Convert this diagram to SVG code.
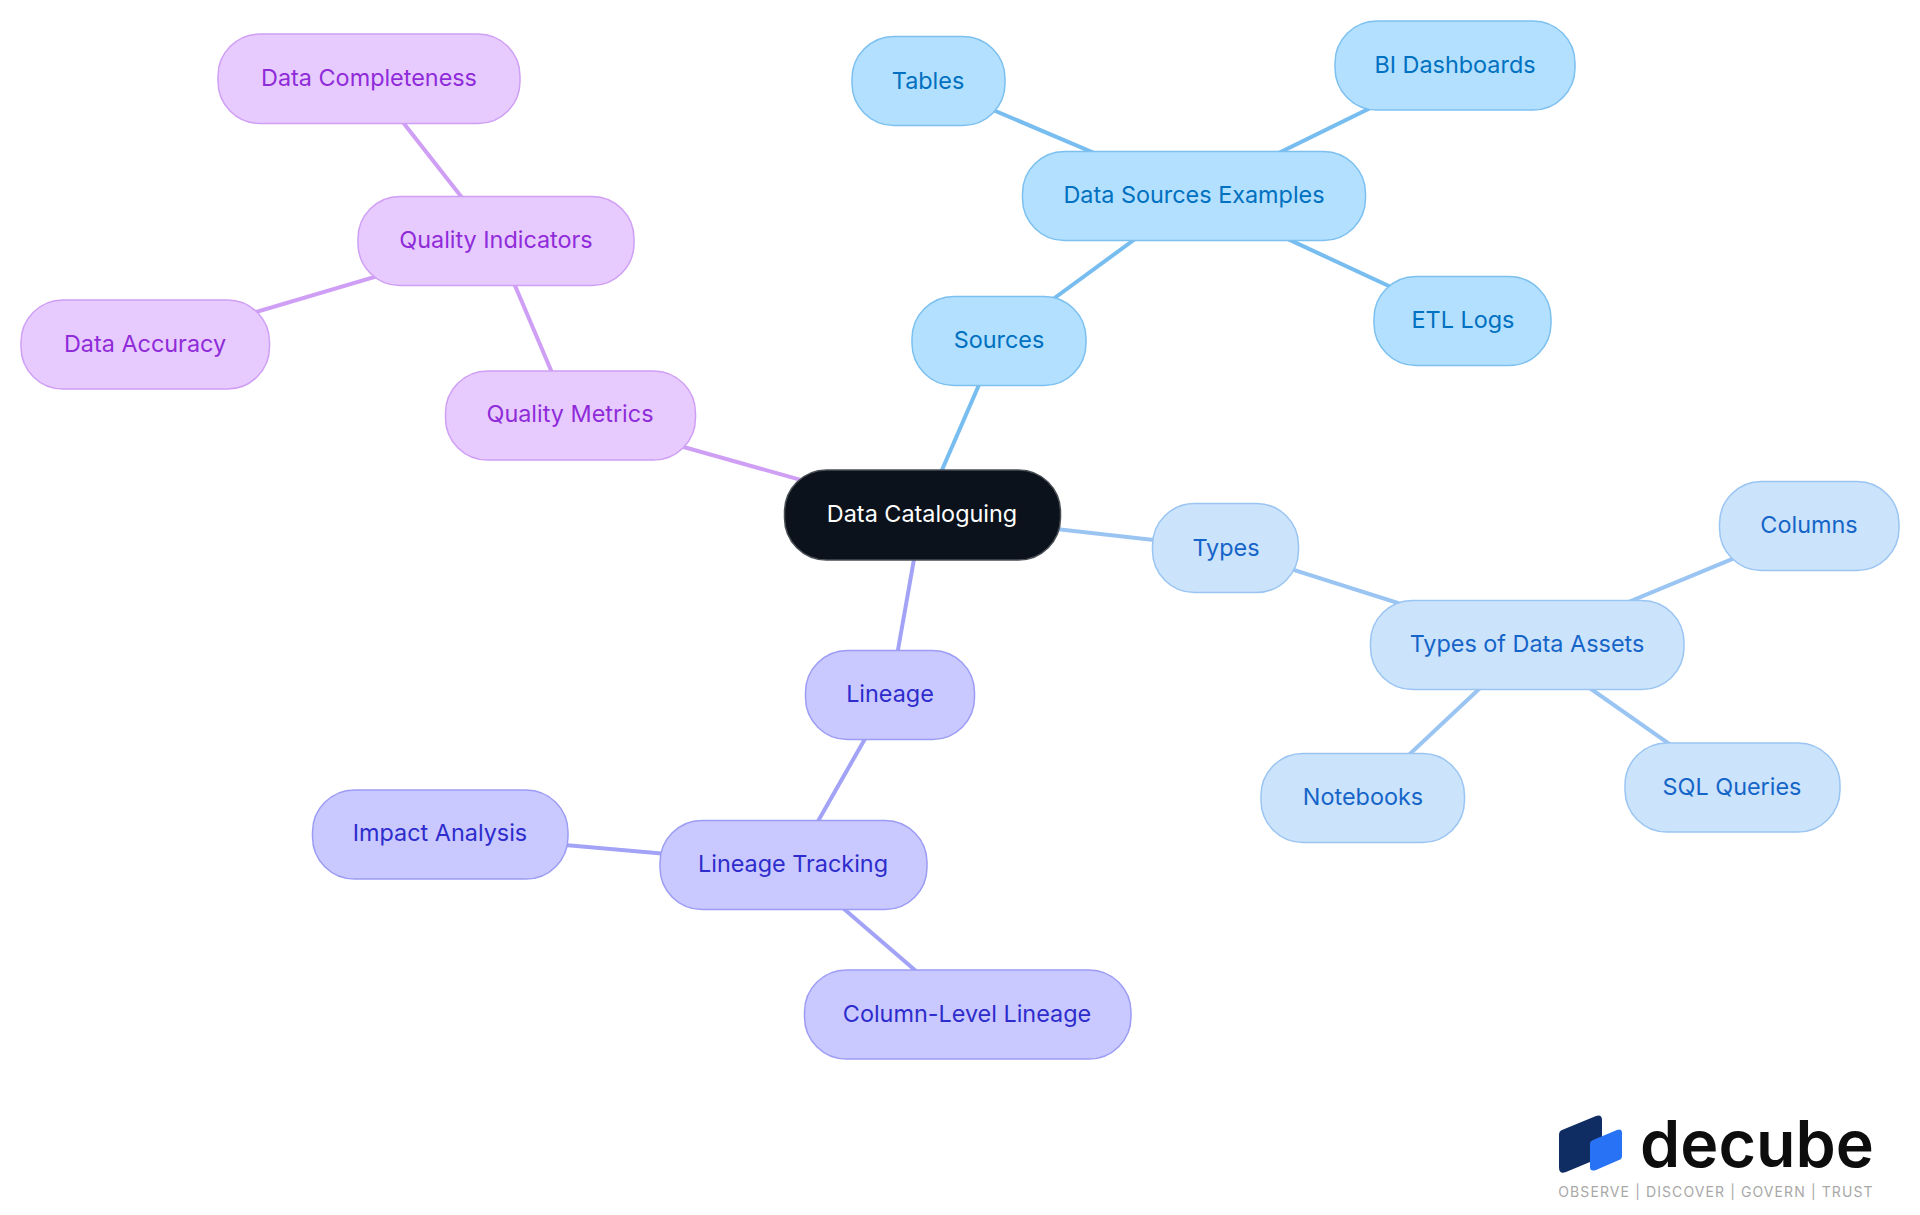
<svg xmlns="http://www.w3.org/2000/svg" width="1920" height="1215" viewBox="0 0 1920 1215">
<style>
text{font-family:"Inter","Noto Sans","Liberation Sans",sans-serif;font-size:23.400px;font-weight:400;text-anchor:middle}
.n{stroke-width:1.5}
.e{stroke-width:4;fill:none}
.c0 rect{fill:#0b121b;stroke:#4a4f55}.c0 text{fill:#fff}
.c1 rect{fill:#b3e0ff;stroke:#7cc0f0}.c1 text{fill:#0070c0}
.c2 rect{fill:#cce3fc;stroke:#9ac5f2}.c2 text{fill:#1565c8}
.c3 rect{fill:#c9c9ff;stroke:#9c9cf5}.c3 text{fill:#2e2ccc}
.c4 rect{fill:#e7cbff;stroke:#cf9ff5}.c4 text{fill:#8f2bd9}
.l1{stroke:#78bdf0}.l2{stroke:#9ac5f2}.l3{stroke:#a2a2f7}.l4{stroke:#cf9ff5}
</style>
<g id="connectors">
<path class="e l1" d="M935 486L985 371"/>
<path class="e l1" d="M1045 305L1146 231"/>
<path class="e l1" d="M1193 195L925 81"/>
<path class="e l1" d="M1193 195L1458 65"/>
<path class="e l1" d="M1193 195L1462 320"/>
<path class="e l2" d="M922 514L1225 548"/>
<path class="e l2" d="M1225 548L1527 644"/>
<path class="e l2" d="M1527 644L1812 526"/>
<path class="e l2" d="M1527 644L1732 788"/>
<path class="e l2" d="M1527 644L1364 797"/>
<path class="e l3" d="M922 514L890 695"/>
<path class="e l3" d="M890 695L793 865"/>
<path class="e l3" d="M793 865L440 834"/>
<path class="e l3" d="M793 865L967 1015"/>
<path class="e l4" d="M922 514L570 415"/>
<path class="e l4" d="M570 415L496 241"/>
<path class="e l4" d="M496 241L369 79"/>
<path class="e l4" d="M496 241L145 345"/>
</g>
<g id="n0" class="n c0"><rect x="784.500" y="470" width="276" height="90" rx="42"/><text x="922" y="522">Data Cataloguing</text></g>
<g id="n1" class="n c1"><rect x="912" y="296.500" width="174" height="89" rx="42"/><text x="999" y="348">Sources</text></g>
<g id="n2" class="n c1"><rect x="1022.500" y="151.500" width="343" height="89" rx="42"/><text x="1194" y="203">Data Sources Examples</text></g>
<g id="n3" class="n c1"><rect x="852" y="36.500" width="153" height="89" rx="42"/><text x="928" y="89">Tables</text></g>
<g id="n4" class="n c1"><rect x="1335" y="21" width="240" height="89" rx="42"/><text x="1455" y="73">BI Dashboards</text></g>
<g id="n5" class="n c1"><rect x="1374" y="276.500" width="177" height="89" rx="42"/><text x="1463" y="328">ETL Logs</text></g>
<g id="n6" class="n c2"><rect x="1152.500" y="503.500" width="146" height="89" rx="42"/><text x="1226" y="556">Types</text></g>
<g id="n7" class="n c2"><rect x="1370.500" y="600.500" width="313.500" height="89" rx="42"/><text x="1527" y="652">Types of Data Assets</text></g>
<g id="n8" class="n c2"><rect x="1719.500" y="481.500" width="179.500" height="89" rx="42"/><text x="1809" y="533">Columns</text></g>
<g id="n9" class="n c2"><rect x="1625" y="743" width="215" height="89" rx="42"/><text x="1732" y="795">SQL Queries</text></g>
<g id="n10" class="n c2"><rect x="1261" y="753.500" width="203.500" height="89" rx="42"/><text x="1363" y="805">Notebooks</text></g>
<g id="n11" class="n c3"><rect x="805.500" y="650.500" width="169" height="89" rx="42"/><text x="890" y="702">Lineage</text></g>
<g id="n12" class="n c3"><rect x="660" y="820.500" width="267" height="89" rx="42"/><text x="793" y="872">Lineage Tracking</text></g>
<g id="n13" class="n c3"><rect x="312.500" y="790" width="255.500" height="89" rx="42"/><text x="440" y="841">Impact Analysis</text></g>
<g id="n14" class="n c3"><rect x="804.500" y="970" width="326.500" height="89" rx="42"/><text x="967" y="1022">Column-Level Lineage</text></g>
<g id="n15" class="n c4"><rect x="445.500" y="371" width="250" height="89" rx="42"/><text x="570" y="422">Quality Metrics</text></g>
<g id="n16" class="n c4"><rect x="358" y="196.500" width="276" height="89" rx="42"/><text x="496" y="248">Quality Indicators</text></g>
<g id="n17" class="n c4"><rect x="21" y="300" width="248.500" height="89" rx="42"/><text x="145" y="352">Data Accuracy</text></g>
<g id="n18" class="n c4"><rect x="218" y="34" width="302" height="89.500" rx="42"/><text x="369" y="86">Data Completeness</text></g>
<g id="logo">
<path d="M1562 1130L1596 1116Q1602 1114 1602 1120V1157L1566 1172Q1559 1175 1559 1167V1135Q1559 1131 1562 1130Z" fill="#0f2d63"/>
<path d="M1593 1140L1617 1130Q1622 1128 1622 1133V1156Q1622 1159 1619 1160L1596 1170Q1590 1172 1590 1167V1144Q1590 1141 1593 1140Z" fill="#2872f5"/>
<text x="1757" y="1167" style="font-size:64.500px;font-weight:600;fill:#0d0d0d">decube</text>
<text x="1716" y="1197" style="font-size:14px;font-weight:400;letter-spacing:1.100px;fill:#a8a8a8">OBSERVE | DISCOVER | GOVERN | TRUST</text>
</g>
</svg>
